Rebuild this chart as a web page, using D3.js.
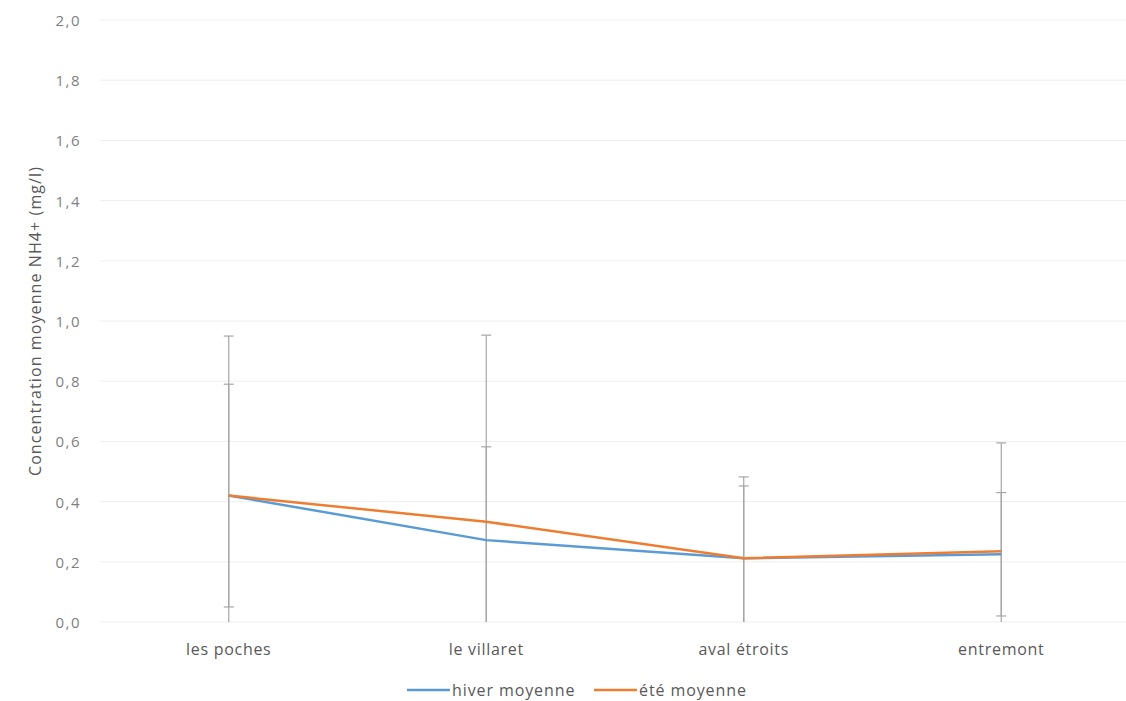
<!DOCTYPE html>
<html><head><meta charset="utf-8">
<script src="https://cdn.jsdelivr.net/npm/d3@7"></script>
<style>body{margin:0;background:#fff}svg{display:block}text{font-family:"Open Sans",sans-serif;fill:#7f7f7f}</style>
</head><body><svg id="c" width="1126" height="701"></svg>
<script>
const categories = ["les poches","le villaret","aval étroits","entremont"];
const hiverMoyenne = [0.42, 0.272, 0.212, 0.225];
const hiverErreur = [0.37, 0.31, 0.24, 0.205];
const eteMoyenne = [0.42, 0.333, 0.212, 0.235];
const eteErreur = [0.53, 0.62, 0.27, 0.36];
const yTicks = [0,0.2,0.4,0.6,0.8,1.0,1.2,1.4,1.6,1.8,2.0];
const seriesNames = ["hiver moyenne","été moyenne"];
const colors = ["#5b9bd5","#ed7d31"];

const svg = d3.select("#c");
const x = d3.scaleBand().domain(categories).range([100,1130]);
const y = d3.scaleLinear().domain([0,2]).range([622,20]);
const fmt = d => d3.format(".1f")(d).replace(".",",");

svg.append("g").selectAll("line").data(yTicks).join("line")
  .attr("x1",100).attr("x2",1126).attr("y1",d=>y(d)).attr("y2",d=>y(d))
  .attr("stroke","#efefef").attr("stroke-width",1);
svg.append("g").selectAll("text").data(yTicks).join("text")
  .attr("x",81).attr("y",d=>y(d)+6).attr("text-anchor","end")
  .attr("font-size",15).style("letter-spacing","1.5px").text(fmt);
svg.append("g").selectAll("text").data(categories).join("text")
  .attr("x",d=>x(d)+x.bandwidth()/2).attr("y",655).attr("text-anchor","middle")
  .attr("font-size",16).style("letter-spacing","0.7px").style("fill","#595959").text(d=>d);
svg.append("text").attr("transform","translate(41,321) rotate(-90)")
  .attr("text-anchor","middle").attr("font-size",16).style("letter-spacing","1.1px").style("fill","#595959")
  .text("Concentration moyenne  NH4+ (mg/l)");

const series = [
  {vals:hiverMoyenne, err:hiverErreur, color:colors[0]},
  {vals:eteMoyenne, err:eteErreur, color:colors[1]}
];
const cx = d => x(d)+x.bandwidth()/2;
series.forEach(s=>{
  const g = svg.append("g").attr("stroke","#a6a6a6").attr("stroke-width",1.2);
  categories.forEach((c,i)=>{
    const hi = s.vals[i]+s.err[i], lo = s.vals[i]-s.err[i];
    const top = Math.min(hi,2), bot = Math.max(lo,0);
    g.append("line").attr("x1",cx(c)).attr("x2",cx(c)).attr("y1",y(top)).attr("y2",y(bot));
    if(hi<=2) g.append("line").attr("x1",cx(c)-5).attr("x2",cx(c)+5).attr("y1",y(hi)).attr("y2",y(hi));
    if(lo>=0) g.append("line").attr("x1",cx(c)-5).attr("x2",cx(c)+5).attr("y1",y(lo)).attr("y2",y(lo));
  });
});
const line = d3.line().x((d,i)=>cx(categories[i])).y(d=>y(d));
series.forEach(s=>{
  svg.append("path").datum(s.vals).attr("d",line).attr("fill","none")
    .attr("stroke",s.color).attr("stroke-width",2.5).attr("stroke-linejoin","round");
});
const lg = svg.append("g");
const lx = [407,594];
seriesNames.forEach((n,i)=>{
  lg.append("line").attr("x1",lx[i]).attr("x2",lx[i]+43).attr("y1",690).attr("y2",690)
    .attr("stroke",colors[i]).attr("stroke-width",2.5);
  lg.append("text").attr("x",lx[i]+45).attr("y",696).attr("font-size",16)
    .style("fill","#595959").style("letter-spacing","0.9px").text(n);
});
</script></body></html>
